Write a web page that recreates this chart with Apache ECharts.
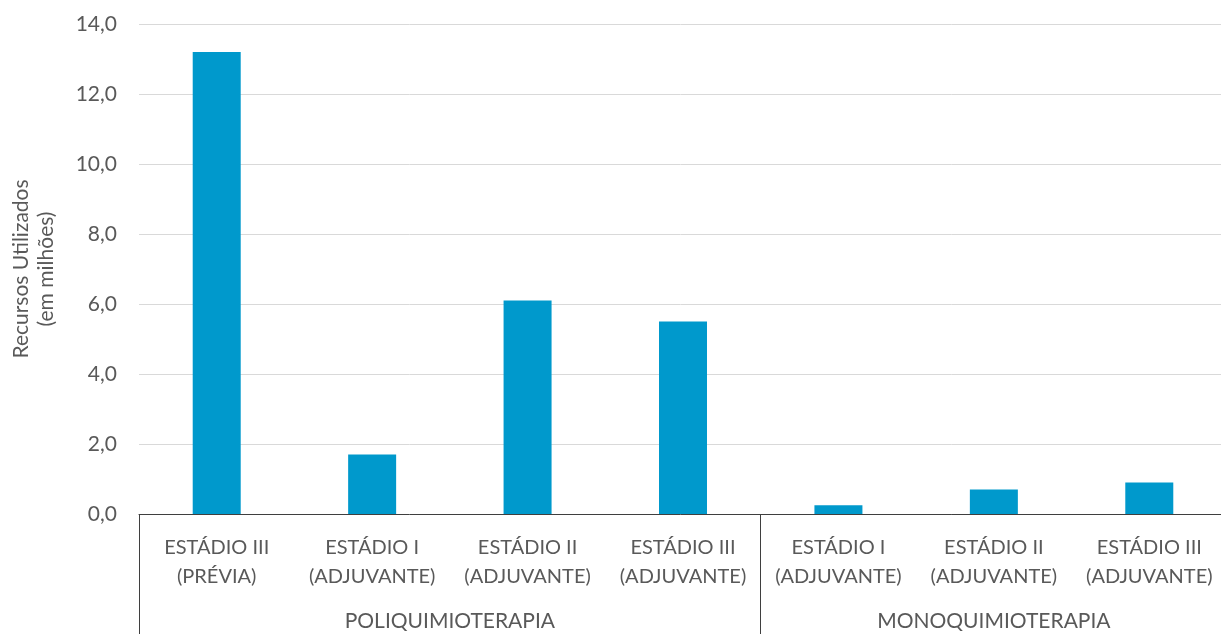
<!DOCTYPE html>
<html><head><meta charset="utf-8">
<script src="https://cdn.jsdelivr.net/npm/echarts@6/dist/echarts.min.js"></script>
<style>html,body{margin:0;padding:0;background:#fff}#c{width:1221px;height:634px}</style>
</head><body><div id="c"></div>
<script>
const categories = [
  'ESTÁDIO III\n(PRÉVIA)', 'ESTÁDIO I\n(ADJUVANTE)', 'ESTÁDIO II\n(ADJUVANTE)', 'ESTÁDIO III\n(ADJUVANTE)',
  'ESTÁDIO I\n(ADJUVANTE)', 'ESTÁDIO II\n(ADJUVANTE)', 'ESTÁDIO III\n(ADJUVANTE)'
];
const values = [13.2, 1.7, 6.1, 5.5, 0.25, 0.7, 0.9];
const groupNames = ['POLIQUIMIOTERAPIA', 'MONOQUIMIOTERAPIA'];
const groupSizes = [4, 3];
const yTicks = [0, 2, 4, 6, 8, 10, 12, 14];

// group boundaries and centers on a 0..n scale
const bounds = [0];
groupSizes.forEach(s => bounds.push(bounds[bounds.length - 1] + s));
const centers = groupSizes.map((s, i) => bounds[i] + s / 2);

const font = 'Lato, "Open Sans", sans-serif';
const grey = '#595959';
const chart = echarts.init(document.getElementById('c'));
chart.setOption({
  animation: false,
  grid: { left: 139, right: -6, top: 24, bottom: 120, containLabel: false, outerBoundsMode: 'none' },
  xAxis: [{
    type: 'category', data: categories,
    axisLine: { lineStyle: { color: '#3f3f3f', width: 1 } },
    axisTick: { show: false },
    axisLabel: { color: grey, fontSize: 20, fontFamily: font, lineHeight: 29, margin: 19, interval: 0 }
  }, {
    type: 'value', min: 0, max: categories.length, position: 'bottom',
    axisLine: { show: false }, splitLine: { show: false },
    axisTick: { show: true, customValues: bounds, length: 120, lineStyle: { color: '#3f3f3f', width: 1 } },
    axisLabel: {
      customValues: centers, color: grey, fontSize: 21, fontFamily: font, margin: 97,
      formatter: v => { const i = centers.indexOf(v); return i >= 0 ? groupNames[i] : ''; }
    }
  }],
  yAxis: {
    type: 'value', min: yTicks[0], max: yTicks[yTicks.length - 1], interval: 2,
    name: 'Recursos Utilizados\n(em milhões)', nameLocation: 'middle', nameGap: 80,
    nameTextStyle: { color: grey, fontSize: 21, fontFamily: font, lineHeight: 25 },
    axisLine: { show: false }, axisTick: { show: false },
    splitLine: { lineStyle: { color: '#d9d9d9', width: 1 } },
    axisLabel: { color: grey, fontSize: 21, fontFamily: font, margin: 22,
      formatter: v => v.toFixed(1).replace('.', ',') }
  },
  series: [{
    type: 'bar', data: values, xAxisIndex: 0, barWidth: 48,
    itemStyle: { color: '#0099cc' }
  }]
});
</script></body></html>
